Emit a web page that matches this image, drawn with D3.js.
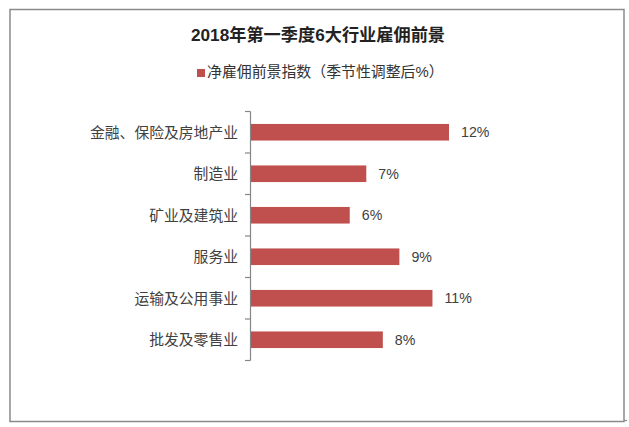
<!DOCTYPE html>
<html>
<head>
<meta charset="utf-8">
<script src="https://cdn.jsdelivr.net/npm/d3@7/dist/d3.min.js"></script>
<style>
  html, body { margin: 0; padding: 0; background: #fff; }
  svg { display: block; }
  text { font-family: "Liberation Sans", Arial, "Noto Sans CJK SC", sans-serif; }
</style>
</head>
<body>
<svg id="chart" width="629" height="427"></svg>
<script>
const title = "2018年第一季度6大行业雇佣前景";
const seriesName = "净雇佣前景指数（季节性调整后%）";
const categories = ["金融、保险及房地产业", "制造业", "矿业及建筑业", "服务业", "运输及公用事业", "批发及零售业"];
const values = [12, 7, 6, 9, 11, 8];
const valueLabels = ["12%", "7%", "6%", "9%", "11%", "8%"];

const barColor = "#c0504d";
const svg = d3.select("#chart");

// outer border
svg.append("rect")
  .attr("x", 10).attr("y", 9.5)
  .attr("width", 614).attr("height", 412)
  .attr("fill", "#fff")
  .attr("stroke", "#8a8a8a")
  .attr("stroke-width", 1.5);
// small resize handle mark at bottom-right corner
svg.append("line")
  .attr("x1", 624).attr("x2", 627)
  .attr("y1", 420.5).attr("y2", 420.5)
  .attr("stroke", "#8a8a8a").attr("stroke-width", 1.2);

// title
svg.append("text")
  .attr("x", 318).attr("y", 41)
  .attr("text-anchor", "middle")
  .attr("font-size", "17.2px")
  .attr("font-weight", "bold")
  .attr("fill", "#222")
  .text(title);

// legend
const legend = svg.append("g");
legend.append("rect")
  .attr("x", 197).attr("y", 69)
  .attr("width", 8).attr("height", 8)
  .attr("fill", barColor);
legend.append("text")
  .attr("x", 207).attr("y", 76.5)
  .attr("font-size", "14.9px")
  .attr("fill", "#333")
  .text(seriesName);

// scales
const x = d3.scaleLinear().domain([0, 12]).range([250.5, 449]);
const y = d3.scaleBand()
  .domain(categories)
  .range([111.5, 360.5])
  .paddingInner(0.6)
  .paddingOuter(0.3);

// bars
svg.append("g").selectAll("rect")
  .data(values)
  .join("rect")
  .attr("x", x(0))
  .attr("y", (d, i) => y(categories[i]))
  .attr("width", d => x(d) - x(0))
  .attr("height", y.bandwidth())
  .attr("fill", barColor);

// value labels
svg.append("g").selectAll("text")
  .data(values)
  .join("text")
  .attr("x", d => x(d) + 12)
  .attr("y", (d, i) => y(categories[i]) + y.bandwidth() / 2)
  .attr("dy", "0.36em")
  .attr("font-size", "14.2px")
  .attr("fill", "#404040")
  .text((d, i) => valueLabels[i]);

// category axis
const axisY = d3.scaleLinear().domain([0, categories.length]).range([111.5, 360.5]);
const axisG = svg.append("g");
axisG.append("line")
  .attr("x1", 250.5).attr("x2", 250.5)
  .attr("y1", axisY(0)).attr("y2", axisY(categories.length))
  .attr("stroke", "#868686").attr("stroke-width", 1.2);
axisG.selectAll("line.tick")
  .data(d3.range(categories.length + 1))
  .join("line")
  .attr("class", "tick")
  .attr("x1", 245).attr("x2", 250.5)
  .attr("y1", d => axisY(d)).attr("y2", d => axisY(d))
  .attr("stroke", "#868686").attr("stroke-width", 1.2);

axisG.selectAll("text")
  .data(categories)
  .join("text")
  .attr("x", 238)
  .attr("y", d => y(d) + y.bandwidth() / 2)
  .attr("dy", "0.36em")
  .attr("text-anchor", "end")
  .attr("font-size", "14.8px")
  .attr("fill", "#404040")
  .text(d => d);
</script>
</body>
</html>
